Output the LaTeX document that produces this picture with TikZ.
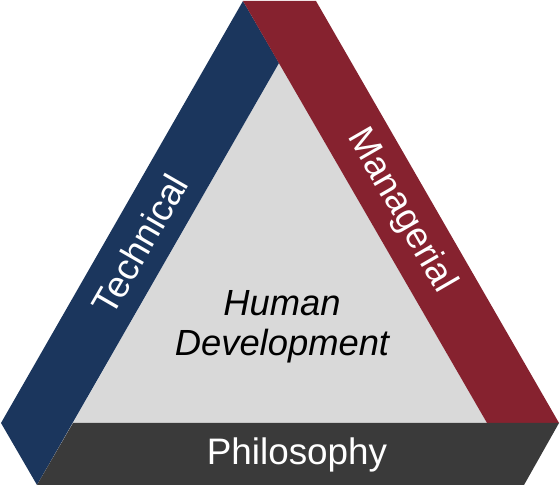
\documentclass[tikz,border=0pt]{standalone}
\usepackage{fontspec}
\setmainfont{Liberation Sans}
\usepackage{tikz}
\usetikzlibrary{arrows.meta}
\definecolor{techblue}{HTML}{1B365D}
\definecolor{mgmtred}{HTML}{86222F}
\definecolor{philgray}{HTML}{3A3A3A}
\definecolor{humangray}{HTML}{D9D9D9}
\tikzset{
  every picture/.style={line join=round, line cap=round, >=Stealth},
  band/.style={draw=none},
  bandtext/.style={text=white, inner sep=0pt, font=\fontsize{37}{40}\selectfont},
  coretext/.style={text=black, inner sep=0pt, align=center, font=\itshape\fontsize{36.5}{40}\selectfont},
}

\begin{document}
\begin{tikzpicture}[x=1bp,y=1bp]
\useasboundingbox (0,0) rectangle (560,500);
\coordinate (apex) at (243,499);
\coordinate (topr) at (316,499);
\coordinate (left) at (1,77);
\coordinate (botl) at (37,15);
\coordinate (botr) at (524,15);
\coordinate (right) at (559,77);
\coordinate (inT) at (279,437);
\coordinate (inL) at (73,77);
\coordinate (inR) at (487,77);
% the inner triangle
\fill[humangray](inT)--(inL)--(inR)--cycle;
% the three bands
\fill[band,techblue](apex)--(left)--(botl)--(inT)--cycle;
\fill[band,mgmtred](apex)--(topr)--(right)--(inR)--cycle;
\fill[band,philgray](inL)--(right)--(botr)--(botl)--cycle;
\node[bandtext,rotate=60] (technical) at (140,256) {Technical};
\node[bandtext,rotate=-60] (managerial) at (401,289) {Managerial};
\node[bandtext] (philosophy) at (297,45) {Philosophy};
\node[coretext] (human) at (282,173) {Human\\Development};
\end{tikzpicture}
\end{document}
